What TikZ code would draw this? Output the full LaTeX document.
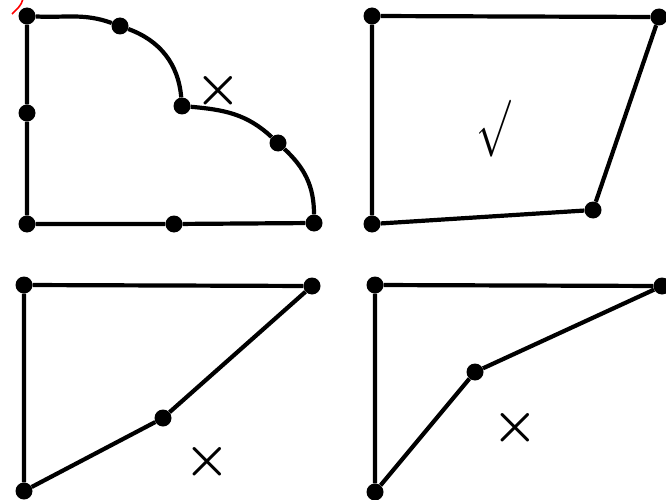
\documentclass[tikz,border=0pt]{standalone}
\usepackage{amsmath,amssymb}
\usetikzlibrary{arrows.meta,positioning,calc}

\begin{document}
\begin{tikzpicture}[x=1pt,y=1pt,
dot/.style={circle,fill=black,inner sep=0pt,minimum size=17pt},
side/.style={line width=4.2pt,draw=black,line join=round},
verdict/.style={inner sep=0pt,scale=5.1},
stray/.style={draw=red,line width=1.6pt}]
\useasboundingbox (0,0) rectangle (666,499);
% panel a: quarter shape with arcs
\node[dot] (a1) at (27,483) {};
\node[dot] (a2) at (120,473) {};
\node[dot] (a3) at (182,393) {};
\node[dot] (a4) at (278,356) {};
\node[dot] (a5) at (314,276) {};
\node[dot] (a6) at (174,275) {};
\node[dot] (a7) at (27,275) {};
\node[dot] (a8) at (27,386) {};
\node[verdict] (av) at (218,408) {$\boldsymbol{\times}$};
\draw[side] (a1) to[out=-3,in=160] (a2) to[out=-20,in=95] (a3)
  to[out=-5,in=137] (a4) to[out=-43,in=90] (a5);
\draw[side] (a1)--(a8)--(a7)--(a6)--(a5);
\coordinate (ra) at (12,485); \coordinate (rb) at (23,500);
\draw[stray] (ra) to[out=45,in=-105] (rb);
% panel b: quadrilateral
\node[dot] (b1) at (372,483) {};
\node[dot] (b2) at (659,482) {};
\node[dot] (b3) at (593,289) {};
\node[dot] (b4) at (372,275) {};
\node[inner sep=0pt,xscale=4.1,yscale=5.7] (bv) at (494,370) {$\surd$};
\draw[side] (b1)--(b2)--(b3)--(b4)--(b1);
% panel c
\node[dot] (c1) at (24,214) {};
\node[dot] (c2) at (312,213) {};
\node[dot] (c3) at (163,81) {};
\node[dot] (c4) at (24,8) {};
\node[verdict] (cv) at (207,37) {$\boldsymbol{\times}$};
\draw[side] (c1)--(c2)--(c3)--(c4)--(c1);
% panel d
\node[dot] (d1) at (375,214) {};
\node[dot] (d2) at (662,213) {};
\node[dot] (d3) at (475,127) {};
\node[dot] (d4) at (375,7) {};
\node[verdict] (dv) at (515,71) {$\boldsymbol{\times}$};
\draw[side] (d1)--(d2)--(d3)--(d4)--(d1);
\end{tikzpicture}
\end{document}
